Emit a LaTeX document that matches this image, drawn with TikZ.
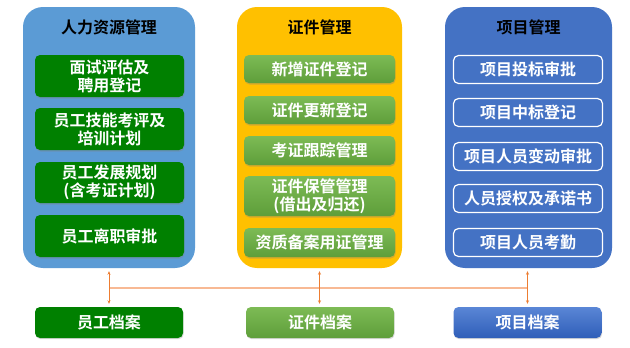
\documentclass[tikz,border=0pt]{standalone}
\usepackage{fontspec}
\setmainfont{Noto Sans CJK SC}[BoldFont={Noto Sans CJK SC Bold}]
\usetikzlibrary{shadows,arrows.meta,calc}
\definecolor{hrblue}{HTML}{5B9BD5}
\definecolor{certorange}{HTML}{FFC000}
\definecolor{projblue}{HTML}{4472C4}
\definecolor{dkgreen}{HTML}{008000}
\definecolor{ltgreenT}{HTML}{7DBB55}
\definecolor{ltgreenB}{HTML}{5E9E3A}
\definecolor{bluegT}{HTML}{5A86D6}
\definecolor{bluegB}{HTML}{2F5EB8}
\definecolor{lineor}{HTML}{F8B994}
\definecolor{arror}{HTML}{ED7D31}
\begin{document}
\begin{tikzpicture}[x=1pt,y=-1pt,
  every node/.style={font=\fontsize{16}{18}\selectfont\bfseries, inner sep=0pt, align=center},
  panel/.style={rounded corners=20pt, minimum height=261pt},
  ttl/.style={text=black},
  gbox/.style={fill=dkgreen, text=white, rounded corners=5pt, minimum width=149pt,
    drop shadow={opacity=0.35, shadow xshift=0.6pt, shadow yshift=-1.5pt}},
  lgbox/.style={top color=ltgreenT, bottom color=ltgreenB, text=white, rounded corners=5pt, minimum width=151pt,
    drop shadow={opacity=0.35, shadow xshift=0.6pt, shadow yshift=-1.5pt}},
  pbox/.style={fill=projblue, draw=white, line width=1.2pt, text=white, rounded corners=5pt,
    minimum width=149pt, minimum height=28pt},
  bbox/.style={rounded corners=5pt, text=white, minimum width=148pt, minimum height=31pt,
    drop shadow={opacity=0.3, shadow xshift=0.6pt, shadow yshift=-1.2pt}},
  hline/.style={draw=lineor, line width=1.8pt},
  conn/.style={draw=arror, line width=0.6pt, {Stealth[length=3.5pt,width=3pt]}-{Stealth[length=3.5pt,width=3pt]}}
]
\useasboundingbox (0,0) rectangle (630,348);
\fill[white] (0,0) rectangle (630,348);

% panels
\node[panel, fill=hrblue, minimum width=172pt] (p1) at (109,137.5) {};
\node[panel, fill=certorange, minimum width=165pt] (p2) at (319.5,137.5) {};
\node[panel, fill=projblue, minimum width=167pt] (p3) at (528.5,137.5) {};

\node[ttl] (t1) at (109,27) {人力资源管理};
\node[ttl] (t2) at (319.5,27) {证件管理};
\node[ttl] (t3) at (528.5,27) {项目管理};

% HR boxes
\node[gbox, minimum height=42pt] (h1) at (109.5,76) {面试评估及\\聘用登记};
\node[gbox, minimum height=42pt] (h2) at (109.5,129) {员工技能考评及\\培训计划};
\node[gbox, minimum height=41pt] (h3) at (109.5,182.5) {员工发展规划\\(含考证计划)};
\node[gbox, minimum height=42pt] (h4) at (109.5,236) {员工离职审批};

% certificate boxes
\node[lgbox, minimum height=28pt] (c1) at (319.5,69) {新增证件登记};
\node[lgbox, minimum height=28pt] (c2) at (319.5,110) {证件更新登记};
\node[lgbox, minimum height=29pt] (c3) at (319.5,150.5) {考证跟踪管理};
\node[lgbox, minimum height=40pt] (c4) at (319.5,196) {证件保管管理\\(借出及归还)};
\node[lgbox, minimum height=29pt] (c5) at (319.5,242.5) {资质备案用证管理};

% project boxes
\node[pbox] (q1) at (528,69.5) {项目投标审批};
\node[pbox] (q2) at (528,112.5) {项目中标登记};
\node[pbox] (q3) at (528,156.5) {项目人员变动审批};
\node[pbox] (q4) at (528,198.5) {人员授权及承诺书};
\node[pbox] (q5) at (528,242.5) {项目人员考勤};

% bottom archive boxes
\node[bbox, fill=dkgreen] (b1) at (109,322.5) {员工档案};
\node[bbox, top color=ltgreenT, bottom color=ltgreenB] (b2) at (320,322.5) {证件档案};
\node[bbox, top color=bluegT, bottom color=bluegB] (b3) at (527.5,322.5) {项目档案};

% connectors
\coordinate (j1) at (109,288);
\coordinate (j2) at (319.5,288);
\coordinate (j3) at (527.5,288);
\draw[hline] (j1) -- (j3);
\draw[conn] ($(p1.south)+(0,3)$) -- ($(b1.north)+(0,-3)$);
\draw[conn] ($(p2.south)+(0,3)$) -- ($(j2 |- b2.north)+(0,-3)$);
\draw[conn] ($(j3 |- p3.south)+(0,3)$) -- ($(b3.north)+(0,-3)$);
\end{tikzpicture}
\end{document}
